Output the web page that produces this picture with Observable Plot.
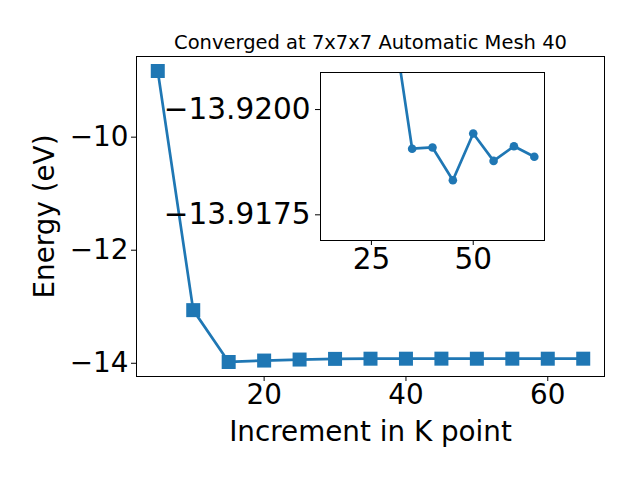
<!DOCTYPE html>
<html>
<head>
<meta charset="utf-8">
<script src="https://cdn.jsdelivr.net/npm/d3@7"></script>
<script src="https://cdn.jsdelivr.net/npm/@observablehq/plot@0.6"></script>
<style>
  html, body { margin: 0; padding: 0; background: white; }
  #wrap { position: relative; width: 640px; height: 480px; }
  #wrap svg { position: absolute; left: 0; top: 0; }
</style>
</head>
<body>
<div id="wrap"></div>
<script>
const kpoints = [5, 10, 15, 20, 25, 30, 35, 40, 45, 50, 55, 60, 65];
const energy = [-8.83, -13.06, -13.977, -13.952, -13.934, -13.9223, -13.91907, -13.91910, -13.91832, -13.91943, -13.91878, -13.91913, -13.91888];
const mainXTicks = [20, 40, 60];
const mainYTicks = [-10, -12, -14];
const insetXTicks = [25, 50];
const insetYTicks = [-13.9200, -13.9175];
const titleText = "Converged at 7x7x7 Automatic Mesh 40";
const xLabel = "Increment in K point";
const yLabel = "Energy (eV)";

const data = kpoints.map((k, i) => ({k, e: energy[i]}));
const insetData = data.filter(d => d.k >= 15);
const blue = "#1f77b4";
const minus = (s) => s.replace("-", "\u2212");
const font = "DejaVu Sans";
const big = "27.8px";

const main = Plot.plot({
  width: 640, height: 480,
  marginLeft: 136, marginRight: 36, marginTop: 56, marginBottom: 104,
  style: {fontFamily: font, fontSize: big, background: "white", color: "black"},
  x: {domain: [2, 68]},
  y: {domain: [-14.234, -8.573]},
  marks: [
    Plot.axisX({ticks: mainXTicks, tickSize: 5, tickPadding: 3, label: null, tickFormat: d => minus(String(d))}),
    Plot.axisY({ticks: mainYTicks, tickSize: 5, tickPadding: 3, label: null, tickFormat: d => minus(String(d))}),
    Plot.frame({stroke: "black", strokeWidth: 1}),
    Plot.line(data, {x: "k", y: "e", stroke: blue, strokeWidth: 2.7}),
    Plot.dot(data, {x: "k", y: "e", symbol: "square", r: 7.9, fill: blue, stroke: null}),
    Plot.text([titleText], {frameAnchor: "top", dy: -14, lineAnchor: "middle", textAnchor: "middle", text: d => d, fontSize: 19.5, fill: "black"}),
    Plot.text([xLabel], {frameAnchor: "bottom", dy: 56, lineAnchor: "middle", textAnchor: "middle", text: d => d, fontSize: 27.8, fill: "black"}),
    Plot.text([yLabel], {frameAnchor: "left", dx: -91, rotate: -90, lineAnchor: "middle", textAnchor: "middle", text: d => d, fontSize: 27.8, fill: "black"})
  ]
});

const inset = Plot.plot({
  width: 640, height: 480,
  marginLeft: 320, marginRight: 96, marginTop: 72, marginBottom: 240,
  style: {fontFamily: font, fontSize: "29.5px", background: "transparent", color: "black"},
  x: {domain: [12.5, 67.5]},
  y: {domain: [-13.91689, -13.92088]},
  marks: [
    Plot.frame({fill: "white"}),
    Plot.axisX({ticks: insetXTicks, tickSize: 5, tickPadding: 3, label: null, tickFormat: d => String(d)}),
    Plot.axisY({ticks: insetYTicks, tickSize: 5, tickPadding: 5, label: null, tickFormat: d => minus(d.toFixed(4))}),
    Plot.line(insetData, {x: "k", y: "e", stroke: blue, strokeWidth: 2.7, clip: true}),
    Plot.dot(insetData, {x: "k", y: "e", r: 4.3, fill: blue, stroke: null, clip: true}),
    Plot.frame({stroke: "black", strokeWidth: 1})
  ]
});

const wrap = document.getElementById("wrap");
wrap.appendChild(main);
wrap.appendChild(inset);
</script>
</body>
</html>
